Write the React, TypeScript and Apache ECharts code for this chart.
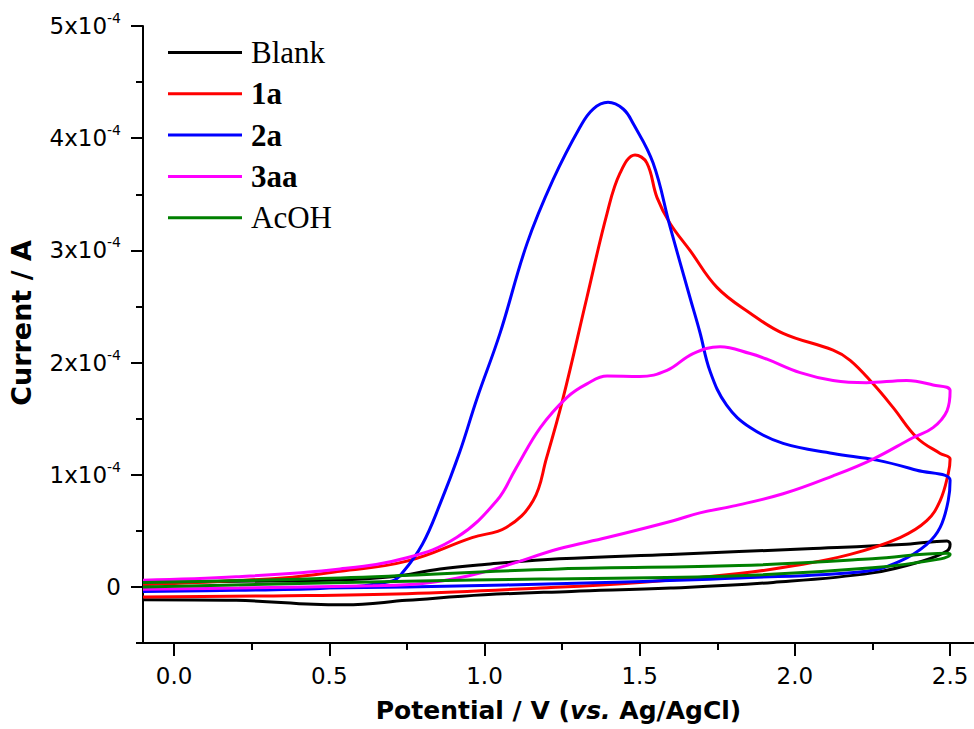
import React, { useEffect, useRef } from 'react';
import * as echarts from 'echarts';

// Potential (V vs. Ag/AgCl), current in units of 1e-4 A
const blank: [number, number][] = [
  [-0.1, 0.04], [0.2, 0.05], [0.5, 0.06], [0.7, 0.09], [0.857, 0.16], [1.0, 0.2], [1.24, 0.25],
  [1.6, 0.29], [2.04, 0.34], [2.36, 0.38], [2.49, 0.41], [2.5, 0.38],
  [2.49, 0.32], [2.41, 0.23], [2.25, 0.125], [1.93, 0.04], [1.6, -0.01], [1.28, -0.04],
  [1.0, -0.07], [0.75, -0.12], [0.55, -0.16], [0.45, -0.155], [0.2, -0.12], [-0.1, -0.115],
];

const oneA: [number, number][] = [
  [-0.1, 0.02], [0.35, 0.08], [0.535, 0.14], [0.75, 0.23], [0.96, 0.44], [1.07, 0.53], [1.157, 0.77],
  [1.2, 1.15], [1.253, 1.68], [1.33, 2.58], [1.395, 3.33], [1.437, 3.69], [1.485, 3.85], [1.523, 3.78],
  [1.556, 3.47], [1.598, 3.24], [1.662, 3.0], [1.749, 2.67], [1.856, 2.44], [1.962, 2.26], [2.123, 2.11],
  [2.178, 2.02], [2.252, 1.81], [2.316, 1.6], [2.393, 1.33], [2.468, 1.19], [2.5, 1.14],
  [2.494, 1.01], [2.468, 0.77], [2.425, 0.59], [2.339, 0.44], [2.178, 0.29], [2.0, 0.19], [1.82, 0.12],
  [1.5, 0.04], [1.18, -0.01], [0.75, -0.06], [0.32, -0.08], [-0.1, -0.09],
];

const twoA: [number, number][] = [
  [-0.1, -0.04], [0.2, -0.03], [0.5, -0.01], [0.7, 0.05], [0.737, 0.13], [0.8, 0.38], [0.857, 0.74],
  [0.92, 1.2], [0.976, 1.68], [1.05, 2.26], [1.137, 3.06], [1.221, 3.63], [1.308, 4.1], [1.35, 4.26],
  [1.398, 4.32], [1.447, 4.26], [1.479, 4.13], [1.543, 3.78], [1.598, 3.21], [1.662, 2.58], [1.694, 2.27],
  [1.727, 1.92], [1.78, 1.62], [1.856, 1.42], [1.962, 1.28], [2.123, 1.19], [2.264, 1.13], [2.393, 1.04],
  [2.5, 0.95],
  [2.494, 0.77], [2.468, 0.53], [2.425, 0.38], [2.339, 0.23], [2.23, 0.14], [1.82, 0.08], [1.39, 0.04],
  [0.75, 0.0], [0.21, -0.02], [-0.1, -0.04],
];

const threeAA: [number, number][] = [
  [-0.1, 0.06], [0.2, 0.09], [0.535, 0.16], [0.75, 0.26], [0.91, 0.44], [1.04, 0.77], [1.1, 1.05],
  [1.18, 1.42], [1.266, 1.69], [1.33, 1.81], [1.395, 1.88], [1.5, 1.875], [1.588, 1.93], [1.672, 2.08],
  [1.759, 2.14], [1.856, 2.08], [1.91, 2.03], [2.017, 1.91], [2.123, 1.84], [2.23, 1.82], [2.36, 1.84],
  [2.445, 1.8], [2.5, 1.75],
  [2.49, 1.57], [2.445, 1.42], [2.38, 1.33], [2.252, 1.14], [2.123, 0.99], [1.962, 0.83], [1.8, 0.72],
  [1.694, 0.66], [1.608, 0.59], [1.395, 0.44], [1.24, 0.34], [1.07, 0.19], [0.95, 0.1], [0.8, 0.03],
  [0.64, 0.01], [0.21, -0.01], [-0.1, -0.02],
];

const acoh: [number, number][] = [
  [-0.1, 0.04], [0.535, 0.08], [1.24, 0.16], [1.82, 0.19], [2.25, 0.25], [2.49, 0.3], [2.5, 0.29],
  [2.47, 0.25], [2.25, 0.17], [1.82, 0.1], [1.18, 0.07], [0.75, 0.05], [-0.1, 0.0],
];

const seriesNames = ['Blank', '1a', '2a', '3aa', 'AcOH'];
const seriesColors = ['#000000', '#ff0000', '#0000ff', '#ff00ff', '#008000'];
const seriesData = [blank, oneA, twoA, threeAA, acoh];
const boldNames = ['1a', '2a', '3aa'];

const xMajorTicks = [0, 0.5, 1.0, 1.5, 2.0, 2.5];
const xMinorTicks = [0.25, 0.75, 1.25, 1.75, 2.25];
const yMajorTicks = [0, 1, 2, 3, 4, 5];
const yMinorTicks = [-0.5, 0.5, 1.5, 2.5, 3.5, 4.5];

const X_MIN = -0.1;
const X_MAX = 2.577;
const Y_MIN = -0.5;
const Y_MAX = 5;

const SANS = 'DejaVu Sans';
const SERIF = 'Liberation Serif';

export default function App() {
  const ref = useRef<HTMLDivElement>(null);
  useEffect(() => {
    const chart = echarts.init(ref.current!, null, { renderer: 'svg' });
    const axisLineStyle = { color: '#000', width: 2 };
    const option: any = {
      animation: false,
      backgroundColor: '#fff',
      grid: { left: 143, right: 0, top: 26, bottom: 86, containLabel: false, outerBoundsMode: 'none' },
      legend: {
        orient: 'vertical',
        left: 168,
        top: 37,
        padding: 0,
        itemGap: 10.3,
        itemWidth: 74,
        itemHeight: 3,
        icon: 'rect',
        data: seriesNames,
        formatter: (name: string) => (boldNames.includes(name) ? `{b|${name}}` : `{n|${name}}`),
        textStyle: {
          fontFamily: SERIF,
          fontSize: 31,
          color: '#000',
          rich: {
            n: { fontFamily: SERIF, fontSize: 31, color: '#000', lineHeight: 34, padding: [0, 0, 0, 4] },
            b: { fontFamily: SERIF, fontSize: 31, fontWeight: 'bold', color: '#000', lineHeight: 34, padding: [0, 0, 0, 4] },
          },
        },
      },
      xAxis: [
        {
          type: 'value',
          min: X_MIN,
          max: X_MAX,
          position: 'bottom',
          name: 'Potential / V ({i|vs.} Ag/AgCl)',
          nameLocation: 'middle',
          nameGap: 55,
          nameTextStyle: {
            fontFamily: SANS,
            fontWeight: 'bold',
            fontSize: 25,
            color: '#000',
            rich: { i: { fontFamily: SANS, fontWeight: 'bold', fontStyle: 'italic', fontSize: 25, color: '#000' } },
          },
          axisLine: { show: true, onZero: false, lineStyle: axisLineStyle },
          axisTick: { show: true, customValues: xMajorTicks, length: 13, lineStyle: axisLineStyle },
          axisLabel: {
            customValues: xMajorTicks,
            margin: 21,
            fontFamily: SANS,
            fontSize: 23,
            color: '#000',
            formatter: (v: number) => v.toFixed(1),
          },
          splitLine: { show: false },
        },
        {
          type: 'value',
          min: X_MIN,
          max: X_MAX,
          position: 'bottom',
          axisLine: { show: false, onZero: false },
          axisTick: { show: true, customValues: xMinorTicks, length: 7, lineStyle: axisLineStyle },
          axisLabel: { show: false },
          splitLine: { show: false },
        },
      ],
      yAxis: [
        {
          type: 'value',
          min: Y_MIN,
          max: Y_MAX,
          position: 'left',
          name: 'Current / A',
          nameLocation: 'middle',
          nameGap: 108,
          nameTextStyle: {
            fontFamily: SANS,
            fontWeight: 'bold',
            fontSize: 27,
            color: '#000',
            padding: [0, 0, 0, 23],
          },
          axisLine: { show: true, onZero: false, lineStyle: axisLineStyle },
          axisTick: { show: true, customValues: yMajorTicks, length: 12, lineStyle: axisLineStyle },
          axisLabel: {
            customValues: yMajorTicks,
            margin: 22,
            formatter: (v: number) => (v === 0 ? '{a|0}' : `{a|${v}x10}{s|-4}`),
            rich: {
              a: { fontFamily: SANS, fontSize: 23, color: '#000', lineHeight: 30 },
              s: { fontFamily: SANS, fontSize: 14, color: '#000', lineHeight: 14, verticalAlign: 'top' },
            },
          },
          splitLine: { show: false },
        },
        {
          type: 'value',
          min: Y_MIN,
          max: Y_MAX,
          position: 'left',
          axisLine: { show: false, onZero: false },
          axisTick: { show: true, customValues: yMinorTicks, length: 7, lineStyle: axisLineStyle },
          axisLabel: { show: false },
          splitLine: { show: false },
        },
      ],
      series: seriesNames.map((name, i) => ({
        name,
        type: 'line',
        xAxisIndex: 0,
        yAxisIndex: 0,
        data: seriesData[i],
        showSymbol: false,
        symbol: 'none',
        smooth: 0.4,
        color: seriesColors[i],
        lineStyle: { color: seriesColors[i], width: 3 },
        emphasis: { disabled: true },
      })),
    };
    chart.setOption(option);
    return () => chart.dispose();
  }, []);
  return <div ref={ref} style={{ position: 'absolute', left: 0, top: 0, width: 974, height: 729 }} />;
}
